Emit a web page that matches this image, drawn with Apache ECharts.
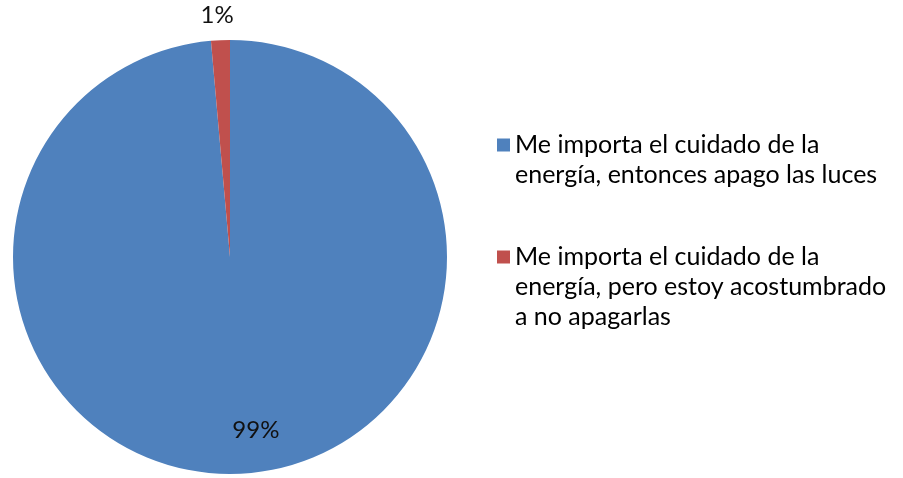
<!DOCTYPE html>
<html>
<head>
<meta charset="utf-8">
<script src="https://cdn.jsdelivr.net/npm/echarts@6/dist/echarts.min.js"></script>
<style>
html,body{margin:0;padding:0;background:#fff;}
#chart{width:903px;height:478px;}
</style>
</head>
<body>
<div id="chart"></div>
<script>
var categories = [
  'Me importa el cuidado de la\nenergía, entonces apago las luces',
  'Me importa el cuidado de la\nenergía, pero estoy acostumbrado\na no apagarlas'
];
var values = [98.6, 1.4];
var colors = ['#4F81BD', '#C0504D'];

var chart = echarts.init(document.getElementById('chart'), null, {renderer: 'canvas'});
var LH = 30;
var labelShift = [[21, 62], [-8, -130]];

chart.setOption({
  animation: false,
  color: colors,
  legend: {
    orient: 'vertical',
    left: 497,
    top: 100,
    padding: 0,
    itemWidth: 13,
    itemHeight: 13,
    itemGap: -8,
    icon: 'rect',
    selectedMode: false,
    data: categories,
    formatter: function (name) {
      var n = name.split('\n').length;
      var pre = '';
      for (var i = 1; i < n; i++) pre += '\n';
      return pre + name;
    },
    textStyle: {fontFamily: 'Lato', fontSize: 25, color: '#000', lineHeight: LH}
  },
  series: [{
    type: 'pie',
    center: [230, 257],
    radius: 217,
    startAngle: 90,
    clockwise: true,
    avoidLabelOverlap: false,
    silent: true,
    data: categories.map(function (c, i) { return {name: c, value: values[i]}; }),
    label: {
      show: true,
      position: 'inside',
      fontFamily: 'Lato',
      fontSize: 24,
      color: '#111',
      formatter: function (p) { return Math.round(p.percent) + '%'; }
    },
    labelLine: {show: false},
    labelLayout: function (p) {
      return {dx: labelShift[p.dataIndex][0], dy: labelShift[p.dataIndex][1]};
    },
    itemStyle: {borderWidth: 0}
  }]
});
</script>
</body>
</html>
